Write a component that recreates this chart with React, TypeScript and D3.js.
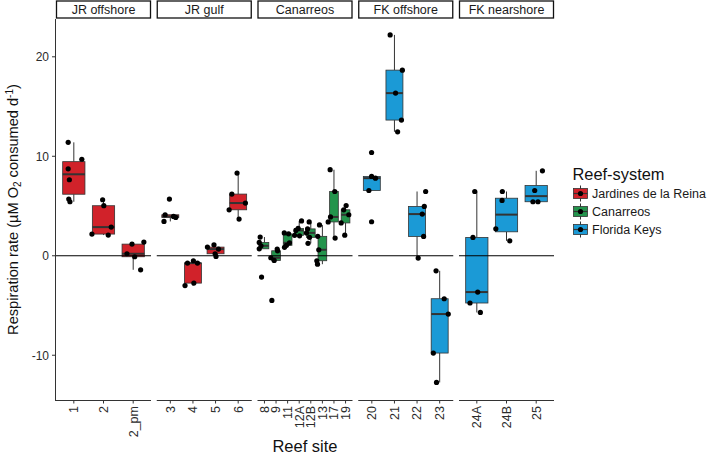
import React from "react";
import * as d3 from "d3";

const panelNames = ["JR offshore", "JR gulf", "Canarreos", "FK offshore", "FK nearshore"];
const panelSites = [
  ["1", "2", "2_pm"],
  ["3", "4", "5", "6"],
  ["8", "9", "11", "12A", "12B", "13", "17", "19"],
  ["20", "21", "22", "23"],
  ["24A", "24B", "25"],
];
const panelSystem = [0, 0, 1, 2, 2];
const systems = ["Jardines de la Reina", "Canarreos", "Florida Keys"];
const systemColors = ["#D1222A", "#23944C", "#1B9AD6"];

const siteValues: Record<string, number[]> = {
  "1": [11.4, 9.7, 8.74, 7.64, 5.7, 5.43],
  "2": [5.63, 5.03, 2.18, 2.08, 2.88],
  "2_pm": [1.17, 1.38, 0.2, -0.1, -1.41],
  "3": [5.7, 4.12, 3.95, 3.85, 3.45],
  "4": [-0.74, -0.5, -0.74, -3.0, -2.75],
  "5": [0.87, 1.1, 0.67, 0.2, -0.07],
  "6": [8.31, 6.2, 5.3, 4.62, 3.69],
  "8": [1.88, 1.34, 1.0, 0.7, -2.14],
  "9": [0.67, 0.5, -0.2, -0.47, -4.49],
  "11": [2.3, 2.2, 1.3, 1.05, 0.85],
  "12A": [3.5, 2.75, 2.55, 2.05, 2.0],
  "12B": [3.4, 2.7, 2.3, 1.85, 1.25],
  "13": [3.1, 1.95, 0.6, -0.5, -0.85],
  "17": [8.65, 6.46, 3.9, 3.4, 1.78],
  "19": [5.05, 4.62, 4.12, 3.3, 2.07],
  "20": [10.38, 7.97, 7.8, 6.56, 3.42],
  "21": [22.2, 18.66, 16.35, 13.64, 12.46],
  "22": [6.46, 4.96, 4.19, 1.94, -0.23],
  "23": [-1.51, -4.32, -5.86, -9.78, -12.73],
  "24A": [6.46, 1.84, -3.65, -4.75, -5.7],
  "24B": [6.46, 5.56, 2.71, 1.5],
  "25": [8.54, 6.56, 5.43, 5.43],
};

// horizontal jitter of each point, in category-step units
const siteJitter: Record<string, number[]> = {
  "1": [-0.19, 0.27, -0.19, -0.15, -0.17, -0.13],
  "2": [-0.03, 0.01, -0.39, 0.16, 0.26],
  "2_pm": [-0.04, 0.36, -0.21, 0.05, 0.25],
  "3": [-0.04, -0.23, 0.14, 0.24, -0.28],
  "4": [-0.24, 0.02, 0.2, -0.35, 0.04],
  "5": [-0.36, -0.07, 0.13, -0.02, 0.02],
  "6": [-0.05, -0.28, 0.32, -0.4, 0.04],
  "8": [-0.37, -0.45, -0.3, -0.45, -0.25],
  "9": [0.1, 0.13, -0.45, -0.16, -0.36],
  "11": [-0.29, 0.08, 0.16, -0.1, -0.27],
  "12A": [0.2, -0.09, -0.29, -0.4, 0.03],
  "12B": [-0.14, -0.28, -0.37, -0.11, -0.24],
  "13": [-0.25, -0.4, -0.31, -0.48, -0.42],
  "17": [-0.33, 0.07, -0.3, -0.5, 0.1],
  "19": [0.05, -0.16, 0.28, -0.38, -0.07],
  "20": [-0.01, -0.01, 0.16, -0.13, -0.01],
  "21": [-0.19, 0.35, 0.05, 0.31, 0.14],
  "22": [0.38, 0.32, 0.23, 0.29, 0.05],
  "23": [-0.16, 0.2, 0.38, -0.28, -0.14],
  "24A": [-0.07, -0.13, 0.03, -0.23, 0.12],
  "24B": [-0.14, -0.15, -0.36, 0.11],
  "25": [0.21, -0.05, -0.11, 0.06],
};

const yTicks = [-10, 0, 10, 20];

const W = 709;
const H = 457;
const panelTop = 19;
const panelBottom = 400;
const panelLeft = 56;
const panelWidth = 95;
const panelStep = 100.75;
const font = "'Liberation Sans', Arial, Helvetica, sans-serif";
const ink = "#333333";

function boxStats(vals: number[]) {
  const s = [...vals].sort((a, b) => a - b);
  const q1 = d3.quantile(s, 0.25)!;
  const med = d3.quantile(s, 0.5)!;
  const q3 = d3.quantile(s, 0.75)!;
  const iqr = q3 - q1;
  const lo = q1 - 1.5 * iqr;
  const hi = q3 + 1.5 * iqr;
  const inside = s.filter((v) => v >= lo && v <= hi);
  return { q1, med, q3, wLo: d3.min(inside)!, wHi: d3.max(inside)! };
}

export default function App() {
  const y = d3.scaleLinear().domain([-14.5, 23.8]).range([panelBottom, panelTop]);

  return (
    <svg
      width={W}
      height={H}
      style={{ position: "absolute", left: 0, top: 0, background: "#fff" }}
      fontFamily={font}
    >
      <rect x={0} y={0} width={W} height={H} fill="#fff" />
      {panelNames.map((pn, pi) => {
        const x0 = panelLeft + pi * panelStep;
        const x1 = x0 + panelWidth;
        const sites = panelSites[pi];
        const x = d3.scalePoint<string>().domain(sites).range([x0, x1]).padding(0.6);
        const step = x.step();
        const bw = step * 0.75;
        const color = systemColors[panelSystem[pi]];
        return (
          <g key={pn}>
            {/* strip */}
            <rect x={x0 + 0.5} y={1} width={panelWidth - 1} height={17} fill="#fff" stroke="#111" strokeWidth={1.3} />
            <text x={(x0 + x1) / 2} y={14} textAnchor="middle" fontSize={12.5} fill="#1a1a1a">
              {pn}
            </text>
            {/* boxes */}
            {sites.map((s) => {
              const st = boxStats(siteValues[s]);
              const cx = x(s)!;
              return (
                <g key={s}>
                  <line x1={cx} x2={cx} y1={y(st.wHi)} y2={y(st.q3)} stroke={ink} strokeWidth={1} />
                  <line x1={cx} x2={cx} y1={y(st.q1)} y2={y(st.wLo)} stroke={ink} strokeWidth={1} />
                  <rect
                    x={cx - bw / 2}
                    y={y(st.q3)}
                    width={bw}
                    height={Math.max(0.5, y(st.q1) - y(st.q3))}
                    fill={color}
                    stroke={ink}
                    strokeWidth={0.8}
                  />
                  <line x1={cx - bw / 2} x2={cx + bw / 2} y1={y(st.med)} y2={y(st.med)} stroke={ink} strokeWidth={2} />
                </g>
              );
            })}
            {/* zero line */}
            <line x1={x0} x2={x1} y1={y(0)} y2={y(0)} stroke="#000" strokeWidth={1} />
            {/* points */}
            {sites.map((s) =>
              siteValues[s].map((v, i) => (
                <circle key={s + "-" + i} cx={x(s)! + siteJitter[s][i] * step} cy={y(v)} r={2.6} fill="#000" />
              ))
            )}
            {/* x axis */}
            <line x1={x0} x2={x1} y1={panelBottom + 0.5} y2={panelBottom + 0.5} stroke={ink} strokeWidth={1} />
            {sites.map((s) => (
              <g key={"t" + s}>
                <line x1={x(s)!} x2={x(s)!} y1={panelBottom} y2={panelBottom + 3.5} stroke={ink} strokeWidth={1} />
                <text
                  transform={`translate(${x(s)!},${panelBottom + 6}) rotate(-90)`}
                  textAnchor="end"
                  dy="0.35em"
                  fontSize={12.5}
                  fill="#2b2b2b"
                >
                  {s}
                </text>
              </g>
            ))}
          </g>
        );
      })}
      {/* y axis */}
      <line x1={panelLeft - 0.5} x2={panelLeft - 0.5} y1={panelTop} y2={panelBottom + 1} stroke={ink} strokeWidth={1} />
      {yTicks.map((t) => (
        <g key={"y" + t}>
          <line x1={panelLeft - 4} x2={panelLeft} y1={y(t)} y2={y(t)} stroke={ink} strokeWidth={1} />
          <text x={panelLeft - 7} y={y(t)} dy="0.36em" textAnchor="end" fontSize={12} fill="#2b2b2b">
            {t}
          </text>
        </g>
      ))}
      {/* axis titles */}
      <text
        transform={`translate(18,${(panelTop + panelBottom) / 2}) rotate(-90)`}
        textAnchor="middle"
        fontSize={14.6}
        fill="#111"
      >
        Respiration rate (µM O
        <tspan fontSize={10} dy="3">2</tspan>
        <tspan dy="-3"> consumed d</tspan>
        <tspan fontSize={10} dy="-5">-1</tspan>
        <tspan dy="5">)</tspan>
      </text>
      <text x={(panelLeft + panelLeft + 4 * panelStep + panelWidth) / 2} y={452} textAnchor="middle" fontSize={16.5} fill="#111">
        Reef site
      </text>
      {/* legend */}
      <text x={572.5} y={180} fontSize={16.4} fill="#111">
        Reef-system
      </text>
      {systems.map((s, i) => {
        const cy = 193.5 + i * 18;
        const kx = 573.5;
        return (
          <g key={s}>
            <line x1={kx + 7} x2={kx + 7} y1={cy - 8} y2={cy + 8} stroke={ink} strokeWidth={1} />
            <rect x={kx} y={cy - 5} width={14} height={10} fill={systemColors[i]} stroke={ink} strokeWidth={0.8} />
            <line x1={kx} x2={kx + 14} y1={cy} y2={cy} stroke={ink} strokeWidth={1.2} />
            <circle cx={kx + 7} cy={cy} r={2.6} fill="#000" />
            <text x={592} y={cy} dy="0.36em" fontSize={12.5} fill="#1a1a1a">
              {s}
            </text>
          </g>
        );
      })}
    </svg>
  );
}
